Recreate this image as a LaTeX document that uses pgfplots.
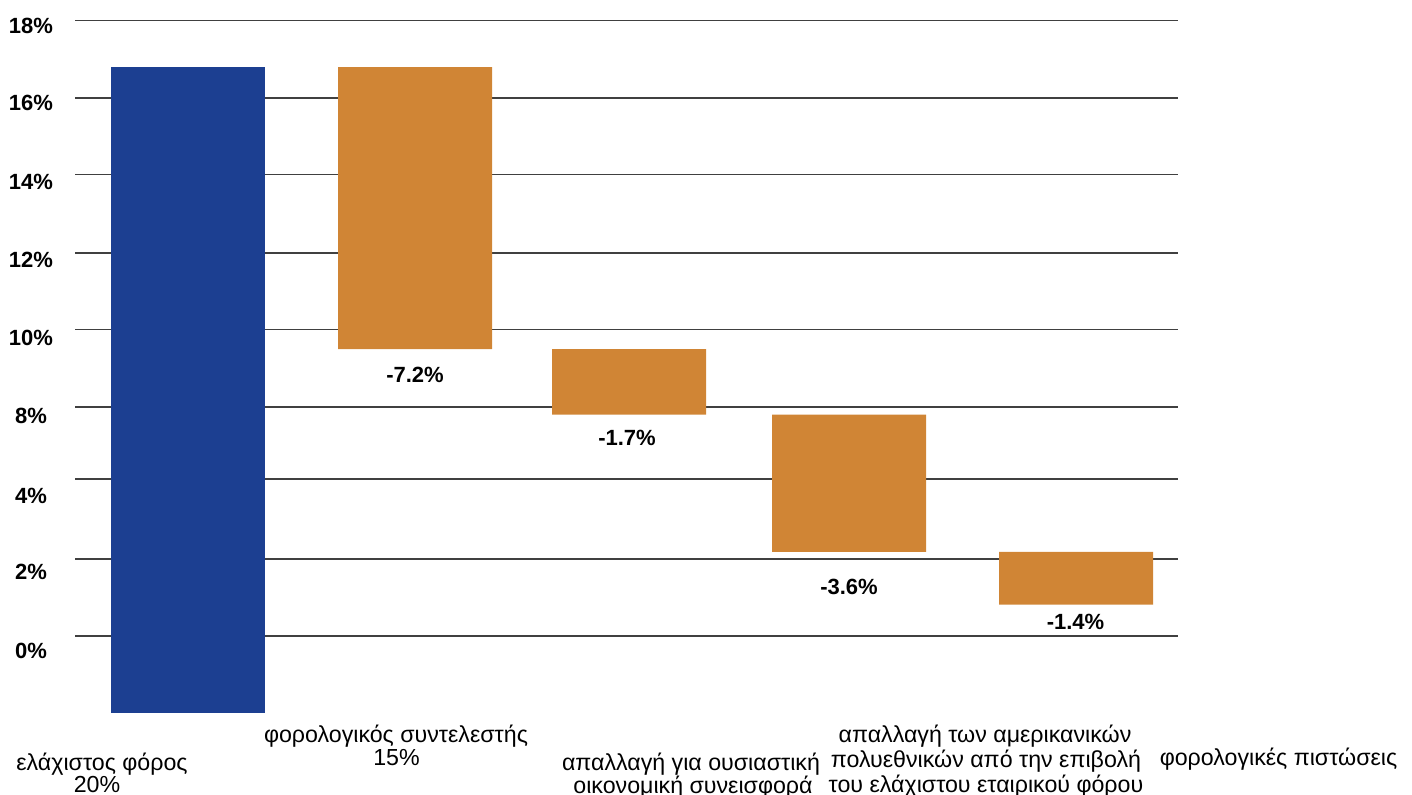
\documentclass[border=0pt]{standalone}
\usepackage{fontspec}
\setmainfont{Liberation Sans}
\usepackage{pgfplots}
\pgfplotsset{compat=1.18}
\definecolor{barblue}{RGB}{28,63,145}
\definecolor{barorange}{RGB}{208,133,53}
\tikzset{
  vlab/.style={font=\bfseries\fontsize{11}{13}\selectfont, inner sep=0pt, anchor=center},
  clab/.style={font=\fontsize{11.6}{13}\selectfont, inner sep=0pt, anchor=base},
}
% values measured from the bottom of the first bar (which lies about 2 units below the 0% gridline)
\begin{document}
\begin{tikzpicture}
\useasboundingbox (0,0) rectangle (706pt,397pt);
\begin{axis}[
  at={(37.5pt,40.65pt)}, anchor=south west,
  scale only axis, width=551.5pt, height=346.1pt,
  xmin=75, xmax=1178, ymin=0, ymax=17.994,
  clip=false,
  axis line style={draw=none},
  major tick length=0pt,
  xtick=\empty,
  ytick={1.614,3.664,5.634,7.714,9.744,11.774,13.794,15.844,17.864},
  yticklabels={0\%,2\%,4\%,8\%,10\%,12\%,14\%,16\%,18\%},
  yticklabel style={font=\bfseries\fontsize{11}{13}\selectfont, anchor=center, xshift=-22pt},
  extra y ticks={1.994,3.994,6.074,7.944,9.954,11.954,13.984,15.984,17.994},
  extra y tick labels={},
  extra y tick style={grid=major},
  major grid style={draw=black!75, line width=0.7pt},
  ybar stacked, bar width=154,
]
\addplot[draw=none, fill=none] coordinates {(188,0) (415,9.454) (629,7.748) (849,4.178) (1076,2.808)};
\addplot[draw=none, fill=barblue] coordinates {(188,16.78) (415,0) (629,0) (849,0) (1076,0)};
\addplot[draw=none, fill=barorange] coordinates {(188,0) (415,7.33) (629,1.706) (849,3.570) (1076,1.370)};

\node[vlab] at (axis cs:415,8.78) {-7.2\%};
\node[vlab] at (axis cs:627,7.142) {-1.7\%};
\node[vlab] at (axis cs:849,3.268) {-3.6\%};
\node[vlab] at (axis cs:1075.5,2.358) {-1.4\%};

\node[clab] at (axis cs:102,-1.49) {ελάχιστος φόρος};
\node[clab] at (axis cs:97,-2.062) {20\%};
\node[clab] at (axis cs:396,-0.762) {φορολογικός συντελεστής};
\node[clab] at (axis cs:396.5,-1.36) {15\%};
\node[clab] at (axis cs:691,-1.49) {απαλλαγή για ουσιαστική};
\node[clab] at (axis cs:693,-2.088) {οικονομική συνεισφορά};
\node[clab] at (axis cs:985,-0.762) {απαλλαγή των αμερικανικών};
\node[clab] at (axis cs:986,-1.412) {πολυεθνικών από την επιβολή};
\node[clab] at (axis cs:986,-2.062) {του ελάχιστου εταιρικού φόρου};
\node[clab] at (axis cs:1278.5,-1.36) {φορολογικές πιστώσεις};
\end{axis}
\end{tikzpicture}
\end{document}
